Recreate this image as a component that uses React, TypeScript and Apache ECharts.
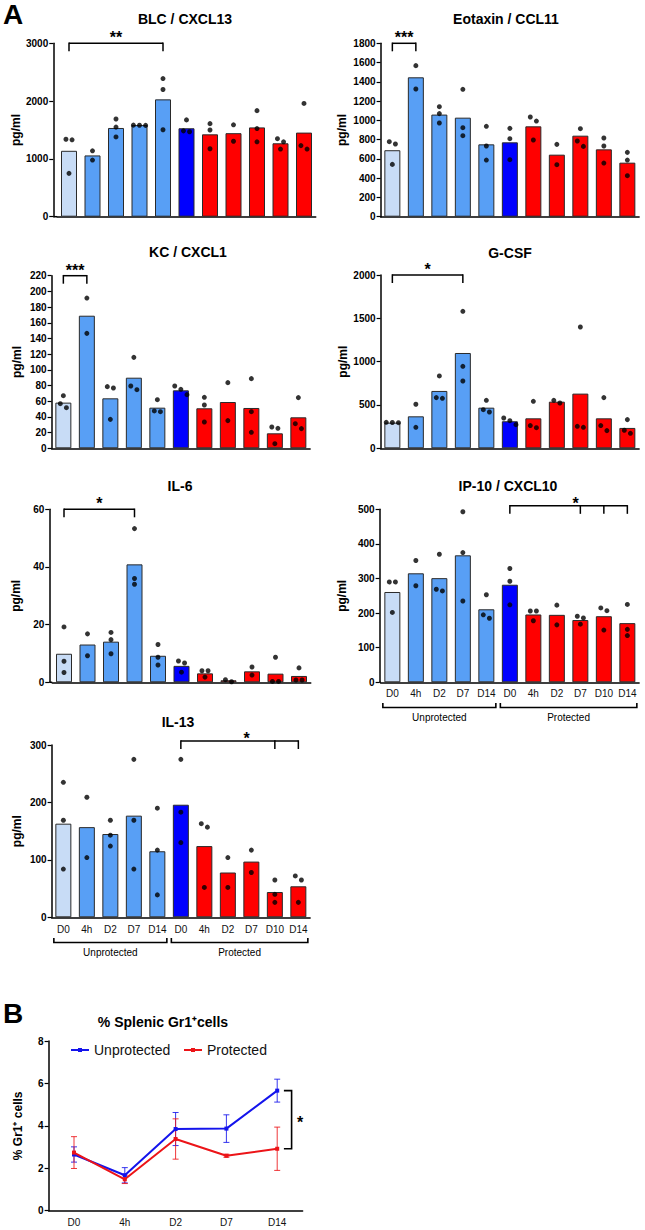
import React, { useEffect, useRef } from "react";
import * as echarts from "echarts";

// ---------- categories ----------
const TIMEPOINTS_UNPROTECTED = ["D0", "4h", "D2", "D7", "D14"];
const TIMEPOINTS_PROTECTED = ["D0", "4h", "D2", "D7", "D10", "D14"];
const GROUP_LABELS = ["Unprotected", "Protected"];
const CATEGORY_KEYS = [
  ...TIMEPOINTS_UNPROTECTED.map((t) => `${GROUP_LABELS[0]}|${t}`),
  ...TIMEPOINTS_PROTECTED.map((t) => `${GROUP_LABELS[1]}|${t}`),
];

// ---------- panel A data (pg/ml) ----------
const BLC_MEANS = [1140, 1060, 1535, 1585, 2030, 1530, 1425, 1445, 1545, 1270, 1455];
const BLC_POINTS = [
  [1340, 1330, 750], [1140, 980], [1690, 1550, 1380], [1582, 1580, 1584], [2390, 2200, 1505],
  [1675, 1470, 1485], [1610, 1500, 1175], [1590, 1305], [1835, 1525, 1295], [1350, 1295, 1170], [1960, 1230, 1170],
];
const EOTAXIN_MEANS = [690, 1447, 1060, 1028, 751, 772, 938, 644, 841, 699, 561];
const EOTAXIN_POINTS = [
  [779, 755, 543], [1568, 1326], [1142, 1070, 973], [1322, 924, 841], [938, 734, 588],
  [917, 810, 592], [1035, 993, 796], [751, 540], [914, 786, 730], [817, 734, 557], [668, 588, 426],
];
const KC_MEANS = [58.2, 169, 63.7, 90, 51.8, 73.9, 51, 59, 51.4, 19.1, 39.5];
const KC_POINTS = [
  [67.1, 56.9, 51.8], [191.5, 146.5], [78.6, 76.9, 36.9], [115.9, 79.4, 74.7], [62, 47.6, 46.7],
  [79.4, 75.2, 68.4], [65, 55.2, 33.5], [83.7, 35.3], [88.8, 46.7, 20.4], [27.2, 25.5, 5.9], [64.6, 31.4, 25.1],
];
const GCSF_MEANS = [296, 369, 662, 1100, 469, 312, 346, 538, 631, 346, 235];
const GCSF_POINTS = [
  [300, 296, 298], [508, 242], [835, 577, 585], [1581, 946, 777], [554, 446, 419],
  [350, 319, 273], [542, 262, 238], [554, 523], [1400, 254, 242], [585, 262, 204], [331, 208, 173],
];
const IL6_MEANS = [9.9, 13.1, 14.1, 40.9, 9.2, 5.7, 3.1, 0.7, 3.8, 3, 2.2];
const IL6_POINTS = [
  [19.2, 7.3, 3.4], [16.8, 9.2], [17.3, 14.8, 9.9], [53.3, 36, 34], [13.1, 8.7, 6],
  [7.4, 6.7, 3.5], [4, 4, 1.8], [0.9, 0.2], [5.3, 2.5], [8.7, 0.3, 0.3], [5, 0.8, 0.8],
];
const IP10_MEANS = [261, 315, 301, 367, 211, 282, 196, 195, 180, 191, 171];
const IP10_POINTS = [
  [290, 290, 202], [352, 279], [370, 264, 269], [493, 375, 235], [253, 195, 185],
  [329, 292, 224], [206, 206, 178], [223, 166], [191, 186, 168], [215, 207, 151], [225, 153, 135],
];
const IL13_MEANS = [163, 157, 145, 177, 115, 196, 124, 78, 97, 44, 54];
const IL13_POINTS = [
  [235, 169, 84], [209, 104], [169, 143, 124], [275, 169, 84], [190, 117, 39],
  [275, 183, 130], [163, 157, 52], [104, 52], [117, 78], [65, 40, 26], [72, 65, 26],
];

// significance annotations (category indices, value level)
const BLC_SIG = [{ from: 0, to: 4, legs: [0, 4], level: 3000, label: "**" }];
const EOTAXIN_SIG = [{ from: 0, to: 1, legs: [0, 1], level: 1800, label: "***" }];
const KC_SIG = [{ from: 0, to: 1, legs: [0, 1], level: 220, label: "***" }];
const GCSF_SIG = [{ from: 0, to: 3, legs: [0, 3], level: 2000, label: "*" }];
const IL6_SIG = [{ from: 0, to: 3, legs: [0, 3], level: 60, label: "*" }];
const IP10_SIG = [{ from: 5, to: 10, legs: [5, 8, 9, 10], level: 510, label: "*", labelAt: 7.8 }];
const IL13_SIG = [{ from: 5, to: 10, legs: [5, 9, 10], level: 307, label: "*", labelAt: 7.8 }];

// ---------- panel B data ----------
const LINE_TIMEPOINTS = ["D0", "4h", "D2", "D7", "D14"];
const UNPROTECTED_MEAN = [2.65, 1.67, 3.85, 3.87, 5.66];
const UNPROTECTED_ERR = [0.36, 0.36, 0.78, 0.65, 0.54];
const PROTECTED_MEAN = [2.74, 1.48, 3.38, 2.59, 2.92];
const PROTECTED_ERR = [0.75, 0.2, 0.95, 0.07, 1.02];

const PANELS = [
  { title: "BLC / CXCL13", means: BLC_MEANS, points: BLC_POINTS, max: 3000, interval: 1000, sig: BLC_SIG },
  { title: "Eotaxin / CCL11", means: EOTAXIN_MEANS, points: EOTAXIN_POINTS, max: 1800, interval: 200, sig: EOTAXIN_SIG },
  { title: "KC / CXCL1", means: KC_MEANS, points: KC_POINTS, max: 220, interval: 20, sig: KC_SIG },
  { title: "G-CSF", means: GCSF_MEANS, points: GCSF_POINTS, max: 2000, interval: 500, sig: GCSF_SIG },
  { title: "IL-6", means: IL6_MEANS, points: IL6_POINTS, max: 60, interval: 20, sig: IL6_SIG },
  { title: "IP-10 / CXCL10", means: IP10_MEANS, points: IP10_POINTS, max: 500, interval: 100, sig: IP10_SIG },
  { title: "IL-13", means: IL13_MEANS, points: IL13_POINTS, max: 300, interval: 100, sig: IL13_SIG },
];

// ---------- layout & style ----------
const FONT = '"Liberation Sans", Arial, Helvetica, sans-serif';
const LAYOUT = [
  { left: 57.25, top: 43.3, width: 258.5, height: 173.4, offset: 4, nameGap: 30, titleX: 185, titleY: 18.5, labels: false, labelMargin: 6 },
  { left: 380.6, top: 43.3, width: 258.5, height: 173.4, offset: 0, nameGap: 33, titleX: 506, titleY: 18.5, labels: false, labelMargin: 6 },
  { left: 51.6, top: 275.7, width: 258.5, height: 172.6, offset: 0, nameGap: 29, titleX: 188, titleY: 251.5, labels: false, labelMargin: 6 },
  { left: 380.6, top: 275, width: 258.5, height: 173.3, offset: 0, nameGap: 32, titleX: 510, titleY: 252.5, labels: false, labelMargin: 6 },
  { left: 52.25, top: 509.3, width: 258.5, height: 173, offset: 3, nameGap: 27, titleX: 180, titleY: 486, labels: false, labelMargin: 6 },
  { left: 380.6, top: 509.3, width: 258.5, height: 173, offset: 1, nameGap: 32, titleX: 508, titleY: 486, labels: true, labelMargin: 6 },
  { left: 51.6, top: 745, width: 258.5, height: 172.3, offset: 0, nameGap: 29, titleX: 178, titleY: 721.5, labels: true, labelMargin: 7.5 },
];
const LINE_LAYOUT = { left: 48.6, top: 1041, width: 254, height: 169.7 };

const COLORS = {
  baseline: "#c8dcf6",
  unprotected: "#589ff5",
  protectedBaseline: "#0000ff",
  protected: "#ff0000",
  lineBlue: "#1414ec",
  lineRed: "#ec1418",
};

function barFill(i: number): string {
  if (i === 0) return COLORS.baseline;
  if (i < TIMEPOINTS_UNPROTECTED.length) return COLORS.unprotected;
  if (i === TIMEPOINTS_UNPROTECTED.length) return COLORS.protectedBaseline;
  return COLORS.protected;
}

// horizontal dodge of overlapping dots (pixel-based)
function dodge(values: number[], pxPerUnit: number): number[] {
  const order = values.map((_, i) => i).sort((a, b) => values[b] - values[a]);
  const offsets = new Array(values.length).fill(0);
  let group: number[] = [];
  const flush = () => {
    const n = group.length;
    group.forEach((gi, j) => {
      offsets[gi] = (j - (n - 1) / 2) * 0.26;
    });
    group = [];
  };
  order.forEach((i) => {
    if (group.length && (values[group[group.length - 1]] - values[i]) * pxPerUnit >= 5.5) flush();
    group.push(i);
  });
  flush();
  return offsets;
}

const plainNumber = (v: number) => String(v);

function buildOption() {
  const grid: any[] = [];
  const xAxis: any[] = [];
  const yAxis: any[] = [];
  const series: any[] = [];

  PANELS.forEach((p, k) => {
    const L = LAYOUT[k];
    grid.push({ left: L.left, top: L.top, width: L.width, height: L.height });
    xAxis.push({
      type: "category",
      gridIndex: k,
      data: CATEGORY_KEYS,
      boundaryGap: true,
      axisLine: { onZero: false, lineStyle: { color: "#000", width: 1.5 } },
      axisTick: { alignWithLabel: true, interval: 0, length: 4, lineStyle: { color: "#000", width: 1.2 } },
      axisLabel: {
        show: L.labels,
        interval: 0,
        margin: L.labelMargin,
        fontSize: 10,
        color: "#111",
        fontFamily: FONT,
        formatter: (v: string) => v.split("|")[1],
      },
      splitLine: { show: false },
    });
    xAxis.push({
      type: "value",
      gridIndex: k,
      min: -0.5,
      max: CATEGORY_KEYS.length - 0.5,
      show: false,
      axisLine: { show: false, onZero: false },
      splitLine: { show: false },
    });
    yAxis.push({
      type: "value",
      gridIndex: k,
      min: 0,
      max: p.max,
      interval: p.interval,
      offset: L.offset,
      axisLine: { show: true, onZero: false, lineStyle: { color: "#000", width: 1.5 } },
      axisTick: { show: true, length: 4, lineStyle: { color: "#000", width: 1.2 } },
      axisLabel: { fontSize: 10, fontWeight: "bold", color: "#000", margin: 5, fontFamily: FONT, formatter: plainNumber },
      splitLine: { show: false },
      name: "pg/ml",
      nameLocation: "middle",
      nameRotate: 90,
      nameGap: L.nameGap,
      nameTextStyle: { fontSize: 12, fontWeight: "bold", color: "#000", fontFamily: FONT },
    });
    series.push({
      type: "bar",
      xAxisIndex: 2 * k,
      yAxisIndex: k,
      barWidth: 16,
      silent: true,
      data: p.means.map((v, i) => ({
        value: v,
        itemStyle: { color: barFill(i), borderColor: "#2a2a2a", borderWidth: 1 },
      })),
    });
    const pxPerUnit = L.height / p.max;
    const scatterData: number[][] = [];
    p.points.forEach((vals, i) => {
      const offs = dodge(vals, pxPerUnit);
      vals.forEach((v, j) => scatterData.push([i + offs[j], v]));
    });
    series.push({
      type: "scatter",
      xAxisIndex: 2 * k + 1,
      yAxisIndex: k,
      data: scatterData,
      symbolSize: 5,
      itemStyle: { color: "#000" },
      silent: true,
      z: 5,
    });
  });

  // panel B
  const gb = PANELS.length;
  grid.push({ ...LINE_LAYOUT });
  xAxis.push({
    type: "category",
    gridIndex: gb,
    data: LINE_TIMEPOINTS,
    boundaryGap: true,
    axisLine: { onZero: false, lineStyle: { color: "#000", width: 1.5 } },
    axisTick: { alignWithLabel: true, interval: 0, length: 4, lineStyle: { color: "#000", width: 1.2 } },
    axisLabel: { interval: 0, margin: 7, fontSize: 10, color: "#111", fontFamily: FONT },
  });
  yAxis.push({
    type: "value",
    gridIndex: gb,
    min: 0,
    max: 8,
    interval: 2,
    axisLine: { show: true, onZero: false, lineStyle: { color: "#000", width: 1.5 } },
    axisTick: { show: true, length: 4, lineStyle: { color: "#000", width: 1.2 } },
    axisLabel: { fontSize: 10, fontWeight: "bold", color: "#000", margin: 5, fontFamily: FONT, formatter: plainNumber },
    splitLine: { show: false },
    name: "% Gr1⁺ cells",
    nameLocation: "middle",
    nameRotate: 90,
    nameGap: 25,
    nameTextStyle: { fontSize: 12, fontWeight: "bold", color: "#000", fontFamily: FONT },
  });
  const lineDefs = [
    { name: GROUP_LABELS[0], mean: UNPROTECTED_MEAN, err: UNPROTECTED_ERR, color: COLORS.lineBlue },
    { name: GROUP_LABELS[1], mean: PROTECTED_MEAN, err: PROTECTED_ERR, color: COLORS.lineRed },
  ];
  lineDefs.forEach((d) => {
    series.push({
      type: "line",
      name: d.name,
      xAxisIndex: 2 * gb,
      yAxisIndex: gb,
      data: d.mean,
      symbol: "rect",
      symbolSize: 4,
      showSymbol: true,
      lineStyle: { color: d.color, width: 2 },
      itemStyle: { color: d.color },
      z: 4,
    });
  });
  lineDefs.forEach((d) => {
    series.push({
      type: "custom",
      xAxisIndex: 2 * gb,
      yAxisIndex: gb,
      silent: true,
      z: 3,
      data: d.mean.map((m, i) => [i, m, d.err[i]]),
      encode: { x: 0, y: 1 },
      renderItem: (params: any, api: any) => {
        const x = api.value(0);
        const m = api.value(1);
        const e = api.value(2);
        const top = api.coord([x, m + e]);
        const bot = api.coord([x, m - e]);
        const st = { stroke: d.color, lineWidth: 1, opacity: 0.85 };
        return {
          type: "group",
          children: [
            { type: "line", shape: { x1: top[0], y1: top[1], x2: bot[0], y2: bot[1] }, style: st },
            { type: "line", shape: { x1: top[0] - 3, y1: top[1], x2: top[0] + 3, y2: top[1] }, style: st },
            { type: "line", shape: { x1: bot[0] - 3, y1: bot[1], x2: bot[0] + 3, y2: bot[1] }, style: st },
          ],
        };
      },
    });
  });

  const legendCommon = {
    orient: "horizontal",
    padding: 0,
    itemWidth: 18,
    itemHeight: 5,
    textStyle: { fontSize: 14, color: "#111", fontFamily: FONT },
    selectedMode: false,
  };

  return {
    animation: false,
    backgroundColor: "#fff",
    grid,
    xAxis,
    yAxis,
    series,
    legend: [
      { ...legendCommon, data: [GROUP_LABELS[0]], left: 70, top: 1043 },
      { ...legendCommon, data: [GROUP_LABELS[1]], left: 183, top: 1043 },
    ],
  };
}

function textEl(text: string, x: number, y: number, size: number, weight: string, align = "center") {
  return {
    type: "text",
    x,
    y,
    silent: true,
    style: {
      text,
      fill: "#000",
      fontSize: size,
      fontWeight: weight,
      fontFamily: FONT,
      align,
      verticalAlign: "middle",
    },
  };
}

function lineEl(x1: number, y1: number, x2: number, y2: number, w = 1.5) {
  return {
    type: "line",
    silent: true,
    shape: { x1, y1, x2, y2 },
    style: { stroke: "#000", lineWidth: w },
  };
}

function buildGraphics(chart: any) {
  const g: any[] = [];
  g.push(textEl("A", 3, 14, 28, "bold", "left"));
  g.push(textEl("B", 3, 1013, 28, "bold", "left"));

  PANELS.forEach((p, k) => {
    const L = LAYOUT[k];
    const sIdx = 2 * k + 1;
    const px = (i: number, v: number) => chart.convertToPixel({ seriesIndex: sIdx }, [i, v]);
    g.push(textEl(p.title, L.titleX, L.titleY, 14, "bold"));
    const bottom = L.top + L.height;
    if (L.offset > 0) g.push(lineEl(L.left - L.offset, bottom, L.left, bottom));

    p.sig.forEach((s: any) => {
      const a = px(s.from, s.level);
      const b = px(s.to, s.level);
      const yTop = a[1];
      g.push(lineEl(a[0], yTop, b[0], yTop));
      s.legs.forEach((li: number) => {
        const q = px(li, s.level);
        g.push(lineEl(q[0], yTop - 0.75, q[0], yTop + 8));
      });
      const at = s.labelAt !== undefined ? px(s.labelAt, s.level)[0] : (a[0] + b[0]) / 2;
      const gap = s.legs.length > 2 ? 2.5 : 5.5;
      g.push(textEl(s.label, at, yTop - gap, 16, "bold"));
    });

    if (L.labels) {
      const groups = [
        { label: GROUP_LABELS[0], from: 0, to: TIMEPOINTS_UNPROTECTED.length - 1 },
        { label: GROUP_LABELS[1], from: TIMEPOINTS_UNPROTECTED.length, to: CATEGORY_KEYS.length - 1 },
      ];
      groups.forEach((gr) => {
        const x0 = px(gr.from, 0)[0] - 9.5;
        const x1 = px(gr.to, 0)[0] + 9.5;
        const yl = bottom + 25.2;
        g.push({
          type: "polyline",
          silent: true,
          shape: { points: [[x0, yl - 4.5], [x0, yl], [x1, yl], [x1, yl - 4.5]] },
          style: { stroke: "#000", lineWidth: 1.6, fill: null },
        });
        g.push(textEl(gr.label, (x0 + x1) / 2, bottom + 35, 10, "normal"));
      });
    }
  });

  // panel B
  const ub = 2 * PANELS.length; // series index of unprotected line
  const last = LINE_TIMEPOINTS.length - 1;
  const pu = chart.convertToPixel({ seriesIndex: ub }, [last, UNPROTECTED_MEAN[last]]);
  const pp = chart.convertToPixel({ seriesIndex: ub + 1 }, [last, PROTECTED_MEAN[last]]);
  const bx = pu[0] + 14.4;
  g.push({
    type: "polyline",
    silent: true,
    shape: { points: [[bx - 7.7, pu[1]], [bx, pu[1]], [bx, pp[1]], [bx - 7.7, pp[1]]] },
    style: { stroke: "#000", lineWidth: 1.6, fill: null },
  });
  g.push(textEl("*", bx + 8.5, (pu[1] + pp[1]) / 2 + 3, 16, "bold"));
  g.push(textEl("% Splenic Gr1⁺cells", 163, 1022, 14, "bold"));
  return g;
}

export default function App() {
  const ref = useRef<HTMLDivElement>(null);
  useEffect(() => {
    if (!ref.current) return;
    const chart = echarts.init(ref.current, undefined, { renderer: "svg" });
    chart.setOption(buildOption() as any);
    chart.setOption({ graphic: buildGraphics(chart) } as any);
    return () => chart.dispose();
  }, []);
  return (
    <div
      ref={ref}
      style={{ position: "absolute", left: 0, top: 0, width: 645, height: 1230, background: "#fff" }}
    />
  );
}
